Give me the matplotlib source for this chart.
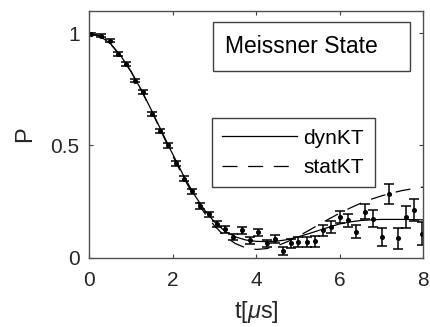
import numpy as np
import matplotlib
matplotlib.use("Agg")
import matplotlib.pyplot as plt
from matplotlib.patches import Rectangle

plt.rcParams["font.family"] = ["Liberation Sans", "DejaVu Sans"]
plt.rcParams["mathtext.fontset"] = "custom"
plt.rcParams["mathtext.rm"] = "Liberation Sans"
plt.rcParams["mathtext.it"] = "Liberation Sans:italic"

# measured polarisation
t_data = [0.05, 0.29, 0.49, 0.69, 0.89, 1.09, 1.29, 1.49, 1.69, 1.89,
          2.08, 2.27, 2.47, 2.66, 2.86, 3.05, 3.25, 3.45, 3.65, 3.85,
          4.05, 4.25, 4.45, 4.63, 4.82, 5.01, 5.21, 5.41, 5.60, 5.80,
          6.00, 6.20, 6.40, 6.60, 6.80, 7.00, 7.19, 7.39, 7.59, 7.77, 7.97]
p_data = [0.997, 0.990, 0.967, 0.908, 0.863, 0.789, 0.740, 0.640, 0.565, 0.500,
          0.420, 0.352, 0.295, 0.230, 0.192, 0.150, 0.125, 0.090, 0.122, 0.076,
          0.112, 0.063, 0.084, 0.028, 0.063, 0.070, 0.070, 0.072, 0.122, 0.137,
          0.181, 0.167, 0.116, 0.204, 0.174, 0.092, 0.285, 0.085, 0.181, 0.211, 0.107]
p_err = [0.006, 0.006, 0.007, 0.007, 0.008, 0.008, 0.009, 0.009, 0.010, 0.010,
         0.011, 0.011, 0.012, 0.012, 0.013, 0.013, 0.014, 0.014, 0.015, 0.016,
         0.017, 0.017, 0.018, 0.019, 0.020, 0.021, 0.022, 0.023, 0.025, 0.026,
         0.028, 0.029, 0.031, 0.033, 0.036, 0.040, 0.045, 0.045, 0.048, 0.050, 0.052]

# fitted Kubo-Toyabe curves
t_fit = [0.0, 0.25, 0.5, 0.75, 1.0, 1.25, 1.5, 1.75, 2.0, 2.25, 2.5, 2.75,
         3.0, 3.25, 3.5, 3.75, 4.0, 4.25, 4.5, 4.75, 5.0, 5.25, 5.5, 5.75,
         6.0, 6.25, 6.5, 6.75, 7.0, 7.25, 7.5, 7.75, 8.0]
dyn_kt = [1.0, 0.988, 0.955, 0.901, 0.830, 0.746, 0.653, 0.556, 0.460, 0.368, 0.285, 0.214,
          0.158, 0.117, 0.092, 0.078, 0.072, 0.071, 0.073, 0.080, 0.092, 0.106, 0.121, 0.136,
          0.150, 0.159, 0.165, 0.168, 0.170, 0.170, 0.170, 0.169, 0.168]
stat_kt = [1.0, 0.988, 0.955, 0.900, 0.829, 0.744, 0.650, 0.551, 0.453, 0.360, 0.275, 0.201,
           0.141, 0.094, 0.062, 0.043, 0.036, 0.040, 0.052, 0.071, 0.094, 0.120, 0.147, 0.173,
           0.198, 0.221, 0.242, 0.260, 0.275, 0.288, 0.299, 0.307, 0.314]

fig = plt.figure(figsize=(4.30, 3.27), dpi=100)
ax = fig.add_axes([0.2077, 0.2125, 0.7767, 0.754])

ax.errorbar(t_data, p_data, yerr=p_err, fmt="o", color="black", markersize=2.6,
            elinewidth=1.1, capsize=3.6, capthick=1.1)
ax.plot(t_fit, dyn_kt, color="black", linewidth=0.9, label="dynKT")
ax.plot(t_fit, stat_kt, color="black", linewidth=0.9, dashes=(12, 8.5), label="statKT")

ax.set_xlim(0, 8)
ax.set_ylim(0, 1.1)
ax.set_xticks([0, 2, 4, 6, 8])
ax.set_yticks([0, 0.5, 1])
ax.set_yticklabels(["0", "0.5", "1"])
ax.tick_params(direction="in", length=3, width=0.8, top=True, right=True,
               labelsize=15, colors="#404040", labelcolor="#262626")
ax.tick_params(axis="x", pad=10)
ax.tick_params(axis="y", pad=7)
for s in ax.spines.values():
    s.set_color("#505050")
    s.set_linewidth(1.0)

ax.set_xlabel(r"t[$\mu$s]", fontsize=17, color="#262626", labelpad=6)
ax.set_ylabel("P", fontsize=17, color="#262626", labelpad=10)

# state label in its own frame
ax.add_patch(Rectangle((0.369, 0.758), 0.591, 0.196, transform=ax.transAxes,
                       facecolor="white", edgecolor="#404040", linewidth=1.0, zorder=5))
ax.text(0.406, 0.856, "Meissner State", transform=ax.transAxes, fontsize=16.5,
        va="center", ha="left", color="black", zorder=6)

leg = ax.legend(loc="upper left", bbox_to_anchor=(0.367, 0.565), borderaxespad=0,
                fontsize=15, fancybox=False, framealpha=1, edgecolor="#404040",
                handlelength=3.6, handletextpad=0.3, labelspacing=0.5,
                borderpad=0.5)
leg.get_frame().set_linewidth(1.0)

fig.savefig("out.png", dpi=100)
